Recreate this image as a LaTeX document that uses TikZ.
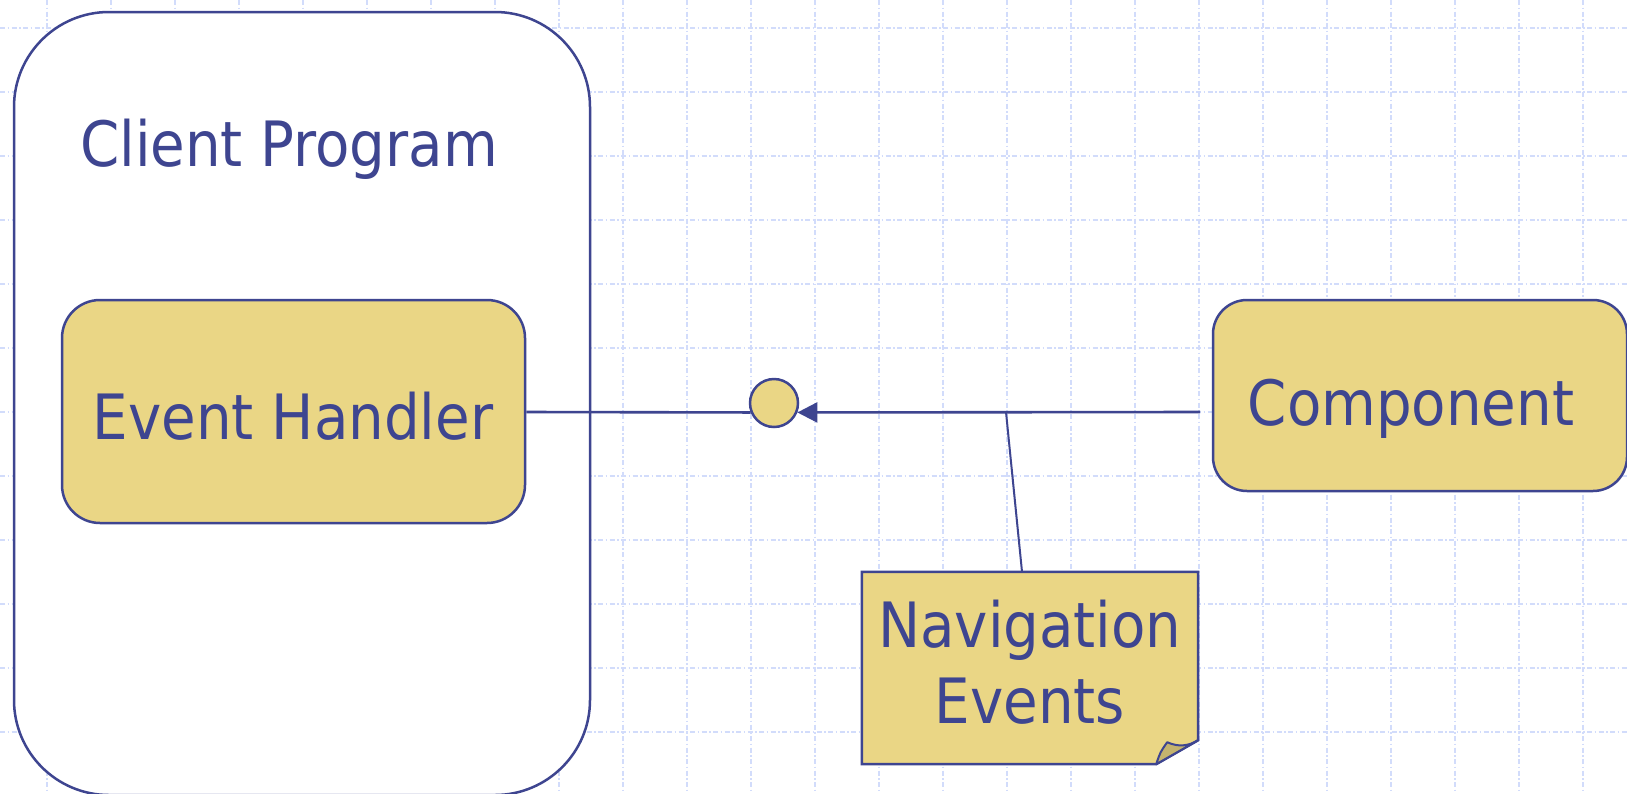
\documentclass[tikz,border=0pt]{standalone}
\usepackage{fontspec}
\setmainfont{DejaVu Sans Condensed}
\usetikzlibrary{arrows.meta,calc}
\definecolor{ink}{HTML}{3E4590}
\definecolor{khaki}{HTML}{EAD685}
\definecolor{foldc}{HTML}{C4B36E}
\definecolor{gridc}{HTML}{D2DCFB}
\begin{document}
\begin{tikzpicture}[x=1pt,y=-1pt,
  box/.style={draw=ink, fill=khaki, line width=2.5pt, inner sep=0pt},
  lbl/.style={text=ink, font=\fontsize{62.5}{76}\selectfont, inner sep=0pt},
  conn/.style={draw=ink, line width=2.6pt},
  gridline/.style={draw=gridc, line width=1.4pt, dash pattern=on 5pt off 2.5pt on 1.5pt off 2.5pt}]
\useasboundingbox (0,0) rectangle (1627,793);
\fill[white] (0,0) rectangle (1627,793);
\foreach \i in {0,...,24} \draw[gridline] (47+64*\i,0) -- (47+64*\i,793);
\foreach \j in {0,...,12} \draw[gridline] (0,28+64*\j) -- (1627,28+64*\j);
% client program container
\node[box, fill=white, rounded corners=95pt, minimum width=576pt, minimum height=783pt] (client) at (302,403.5) {};
\node[lbl, anchor=base west] (cptitle) at (80,166) {Client Program};
% event handler
\node[box, rounded corners=38pt, minimum width=463pt, minimum height=223pt] (eh) at (293.5,411.5) {};
\node[lbl, anchor=base] (ehtext) at (293,439) {Event Handler};
% component
\node[box, rounded corners=34pt, minimum width=414pt, minimum height=191pt] (comp) at (1420,395.5) {};
\node[lbl, anchor=base] (comptext) at (1411,425) {Component};
% interface circle
\node[circle, draw=ink, fill=khaki, line width=2.5pt, minimum size=48pt, inner sep=0pt] (ev) at (774,403) {};
\coordinate (cin) at (1200,412);
\coordinate (tap) at (1006,412);
\draw[conn] (eh.east |- tap) -- (ev.202);
\draw[conn, -{Triangle[length=20pt,width=20pt]}] (cin) -- (ev.-22);
% note
\node[inner sep=0pt, minimum width=336pt, minimum height=192pt] (note) at (1030,668) {};
\filldraw[draw=ink, fill=khaki, line width=2.5pt, line join=miter]
  (note.north west) -- (note.north east) -- ($(note.south east)+(0,-24)$)
  -- ($(note.south east)+(-42,0)$) -- (note.south west) -- cycle;
\filldraw[draw=ink, fill=foldc, line width=2pt, line join=round]
  ($(note.south east)+(-42,0)$) .. controls ($(note.south east)+(-38,-12)$) .. ($(note.south east)+(-31,-22)$)
  .. controls ($(note.south east)+(-20,-17)$) and ($(note.south east)+(-10,-18)$) .. ($(note.south east)+(0,-24)$) -- cycle;
\node[lbl, align=center] (ntext) at (1030,662) {Navigation\\Events};
\draw[conn, line width=2pt] ([xshift=-8pt]note.north) -- (tap);
\end{tikzpicture}
\end{document}
